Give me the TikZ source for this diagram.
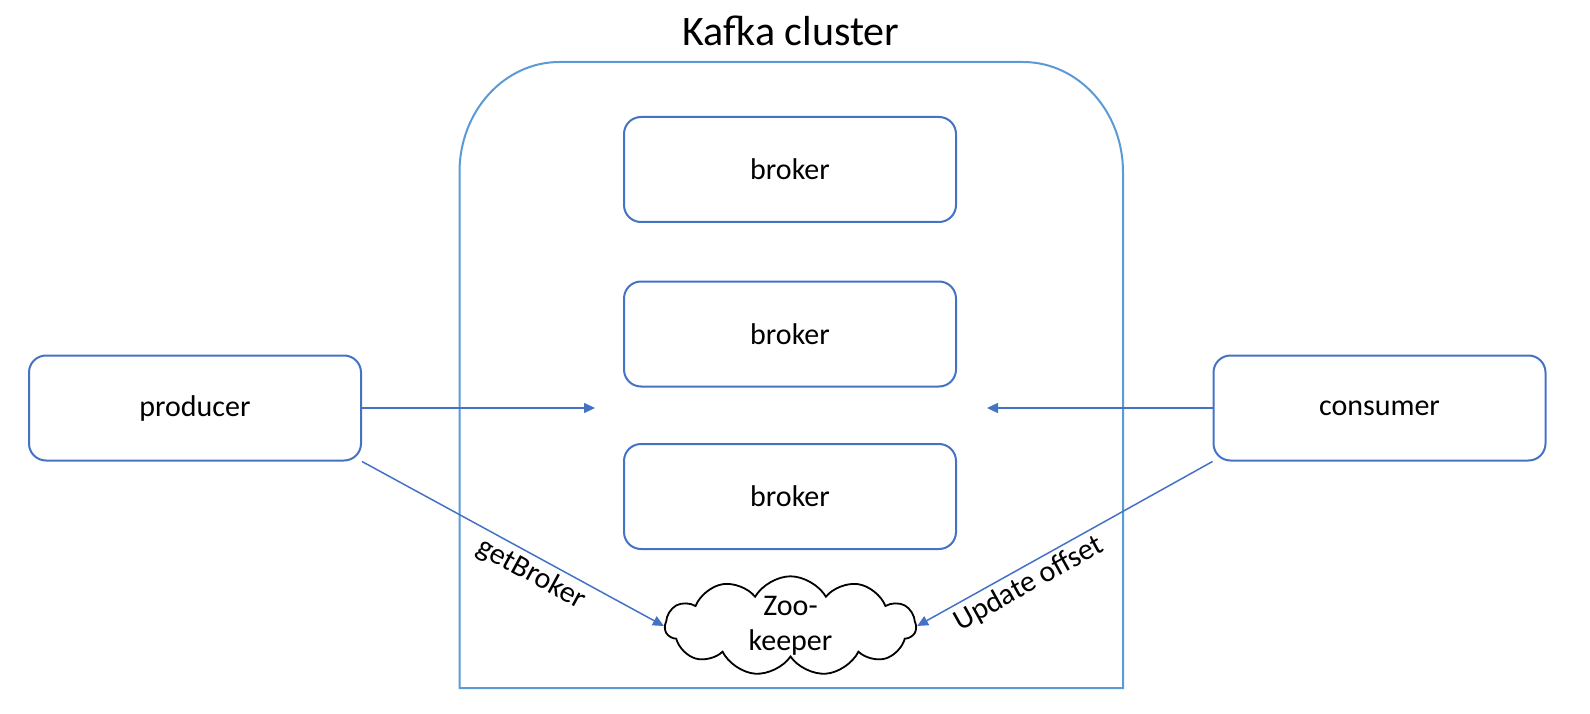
\documentclass[tikz,border=0pt]{standalone}
\usepackage{fontspec}
\setmainfont{Carlito}
\usetikzlibrary{arrows.meta,shapes.symbols}
\definecolor{boxblue}{RGB}{68,114,196}
\definecolor{clblue}{RGB}{91,155,213}
\begin{document}
\begin{tikzpicture}[x=1pt,y=-1pt,
  box/.style={draw=boxblue,line width=2pt,rounded corners=17pt,minimum width=332pt,minimum height=105pt,font=\fontsize{30}{36}\selectfont,inner sep=0pt},
  conn/.style={draw=boxblue,line width=1.5pt,-{Triangle[length=11pt,width=10pt]}},
  lbl/.style={font=\fontsize{30}{36}\selectfont,sloped,below,inner sep=4pt}]
\useasboundingbox (0,0) rectangle (1590,714);
\draw[clblue,line width=2pt] (459.5,688) -- (459.5,172) arc[start angle=180,end angle=270,x radius=100,y radius=110] -- (1023,62) arc[start angle=270,end angle=360,x radius=100,y radius=110] -- (1123,688) -- cycle;
\node[font=\fontsize{42}{50}\selectfont] (title) at (791,31) {Kafka cluster};
\node[box] (b1) at (790,169.5) {broker};
\node[box] (b2) at (790,334) {broker};
\node[box] (b3) at (790,496.5) {broker};
\node[box] (prod) at (195,408) {producer};
\node[box] (cons) at (1379.5,408) {consumer};
\node[cloud,draw,fill=white,line width=1.8pt,cloud puffs=11,cloud puff arc=120,cloud ignores aspect,minimum width=251pt,minimum height=91pt,inner sep=0pt,align=center,font=\fontsize{30}{35}\selectfont] (zk) at (790.5,626) {Zoo-\\keeper};
\coordinate (pin) at (595,408);
\coordinate (cin) at (987,408);
\draw[conn] (prod) -- (pin);
\draw[conn] (cons) -- (cin);
\draw[conn] (prod.south east) -- node[lbl,pos=0.59]{getBroker} (zk.west);
\draw[conn] (cons.south west) -- node[lbl,pos=0.65]{Update offset} (zk.east);
\end{tikzpicture}
\end{document}
